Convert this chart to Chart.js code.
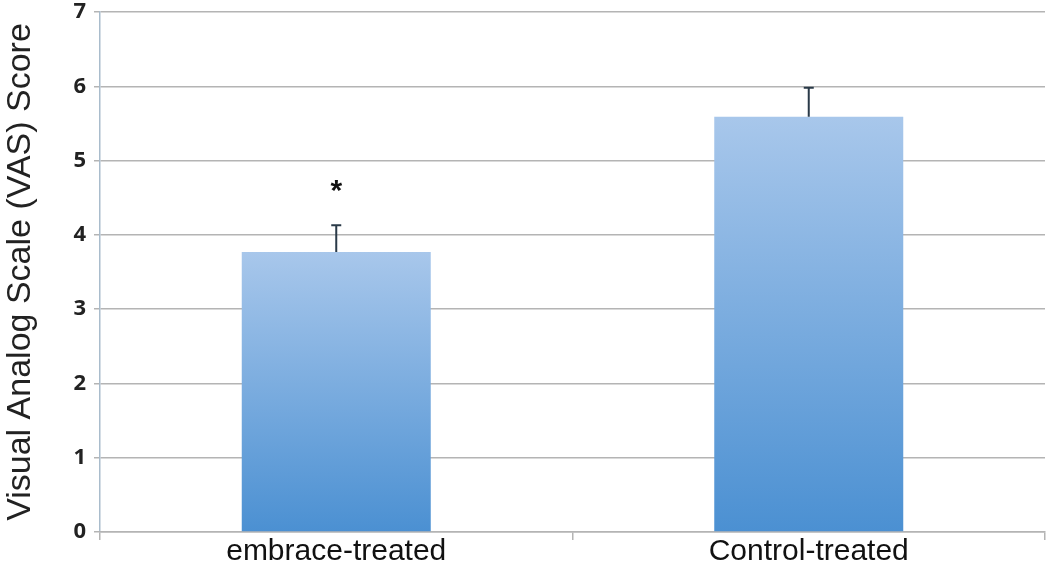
<!DOCTYPE html>
<html><head><meta charset="utf-8">
<script src="https://cdn.jsdelivr.net/npm/chart.js@4"></script>
<style>html,body{margin:0;padding:0;background:#fff}#wrap{width:1050px;height:584px}</style>
</head><body><div id="wrap"><canvas id="c" width="1050" height="584"></canvas></div>
<script>
const categories = ["embrace-treated", "Control-treated"];
const means = [3.77, 5.59];
const errTops = [4.13, 5.98];
const marks = ["*", ""];
const yTicks = [0,1,2,3,4,5,6,7];

const ctx = document.getElementById('c').getContext('2d');

function barGradient(context){
  const chart = context.chart;
  const {chartArea, scales} = chart;
  if(!chartArea) return '#7fb0e0';
  const y0 = scales.y.getPixelForValue(0);
  const y1 = scales.y.getPixelForValue(context.raw || 0);
  const g = chart.ctx.createLinearGradient(0, y1, 0, y0);
  g.addColorStop(0, '#a8c7eb');
  g.addColorStop(1, '#4b90d2');
  return g;
}

const errPlugin = {
  id: 'err',
  afterDatasetsDraw(chart){
    const c = chart.ctx, x = chart.scales.x, y = chart.scales.y;
    c.save();
    c.strokeStyle = '#2a3a48';
    c.lineWidth = 2;
    categories.forEach((cat,i)=>{
      const px = x.getPixelForValue(i);
      const yb = y.getPixelForValue(means[i]);
      const yt = y.getPixelForValue(errTops[i]);
      c.beginPath();
      c.moveTo(px, yb); c.lineTo(px, yt);
      c.moveTo(px-5, yt); c.lineTo(px+5, yt);
      c.stroke();
      if(marks[i]){
        c.fillStyle = '#111';
        c.font = 'bold 30px "Liberation Sans", Arial';
        c.textAlign = 'center';
        c.textBaseline = 'middle';
        c.fillText(marks[i], px, yt - 33);
      }
    });
    c.restore();
  }
};

new Chart(ctx, {
  type: 'bar',
  data: {
    labels: categories,
    datasets: [{
      data: means,
      backgroundColor: barGradient,
      borderWidth: 0,
      categoryPercentage: 0.8,
      barPercentage: 0.5
    }]
  },
  options: {
    responsive: false,
    animation: false,
    events: [],
    layout: { padding: { top: 0, right: 5, left: 0, bottom: 0 } },
    plugins: { legend: { display: false }, tooltip: { enabled: false } },
    scales: {
      y: {
        min: 0, max: 7,
        afterFit(s){ s.width = 100; s.paddingTop = 12; s.paddingBottom = 0; },
        afterBuildTicks(s){ s.ticks = yTicks.map(v=>({value:v})); },
        grid: { color: '#b4b4b4', lineWidth: 1.5, tickLength: 6, drawTicks: true },
        border: { color: '#a9bccc', width: 1.5 },
        ticks: { color: '#222', padding: 8, font: { family: '"Open Sans", Arial', size: 22, weight: '700' } },
        title: { display: true, text: 'Visual Analog Scale (VAS) Score', color: '#222', padding: { top: 0, bottom: 0 },
                 font: { family: '"Liberation Sans", Arial', size: 34 } }
      },
      x: {
        afterFit(s){ s.height = 52; },
        grid: { offset: true, drawOnChartArea: false, tickLength: 8, color: '#b4b4b4', lineWidth: 1.5 },
        border: { color: '#b4b4b4', width: 1.5 },
        ticks: { color: '#111', padding: -6, font: { family: '"Liberation Sans", Arial', size: 30 } }
      }
    }
  },
  plugins: [errPlugin]
});
</script></body></html>
